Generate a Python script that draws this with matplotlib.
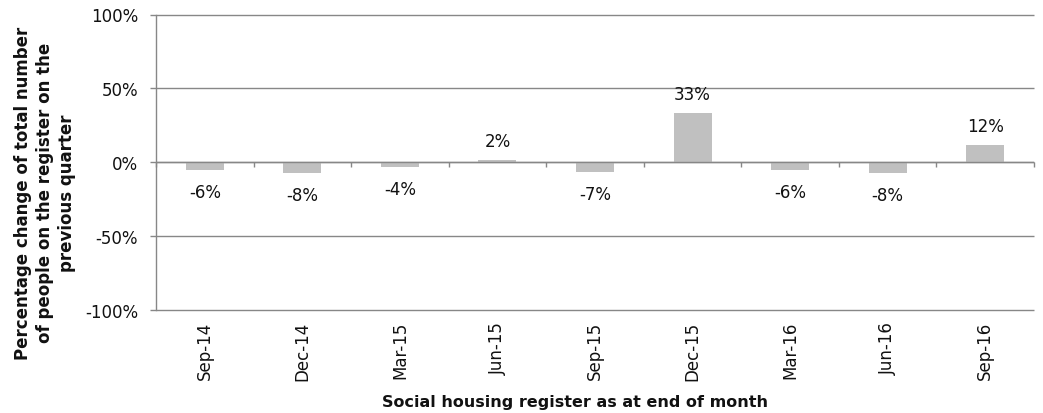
import matplotlib
matplotlib.use("Agg")
import matplotlib.pyplot as plt
import numpy as np

categories = ["Sep-14", "Dec-14", "Mar-15", "Jun-15", "Sep-15", "Dec-15", "Mar-16", "Jun-16", "Sep-16"]
values = [-5.6, -7.6, -3.6, 1.6, -6.6, 33.2, -5.6, -7.6, 11.6]
y_ticks = [-100, -50, 0, 50, 100]

plt.rcParams['font.family'] = ['DejaVu Sans']
grid_c = "#878787"
txt_c = "#111111"

fig = plt.figure(figsize=(10.43, 4.14), dpi=100)
ax = fig.add_axes([156/1043, 1 - 310.7/414, 878/1043, 295.2/414])

x = np.arange(len(categories))
ax.bar(x, values, width=0.39, color="#C0C0C0", zorder=3)

ax.set_xlim(-0.5, len(categories) - 0.5)
ax.set_ylim(-100, 100)
ax.set_yticks(y_ticks)
ax.set_yticklabels([f"{v}%" for v in y_ticks], fontsize=12, color=txt_c)
ax.hlines(y_ticks, -0.5, len(categories) - 0.5, color=grid_c, linewidth=1.0, zorder=1, clip_on=False)
ax.tick_params(axis='y', length=4.3, color=grid_c, width=1.0, pad=8.5)

for s in ["top", "right", "bottom"]:
    ax.spines[s].set_visible(False)
ax.spines["left"].set_color(grid_c)
ax.spines["left"].set_linewidth(1.0)

# zero axis with category boundary ticks
ax.axhline(0, color=grid_c, linewidth=1.0, zorder=4)
bounds = np.arange(len(categories) + 1) - 0.5
ax.vlines(bounds, -3.4, 0, color=grid_c, linewidth=1.0, zorder=4, clip_on=False)

ax.set_xticks(x)
ax.set_xticklabels(categories, rotation=90, fontsize=12, color=txt_c)
ax.tick_params(axis='x', length=0, pad=8)

for xi, v in zip(x, values):
    lab = f"{round(v):.0f}%"
    off = 13.7 if v >= 0 else -15.8
    ax.annotate(lab, (xi, v), xytext=(0, off), textcoords="offset points",
                ha="center", va="center", fontsize=12, color=txt_c)

fig.text(575/1043, 1 - 403/414, "Social housing register as at end of month",
         fontsize=11.5, fontweight="bold", ha="center", va="center", color=txt_c)
fig.text(45/1043, 1 - 193/414,
         "Percentage change of total number\nof people on the register on the\nprevious quarter",
         fontsize=12, fontweight="bold", ha="center", va="center", rotation=90,
         multialignment="center", linespacing=1.27, color=txt_c)

fig.savefig("out.png", dpi=100)
